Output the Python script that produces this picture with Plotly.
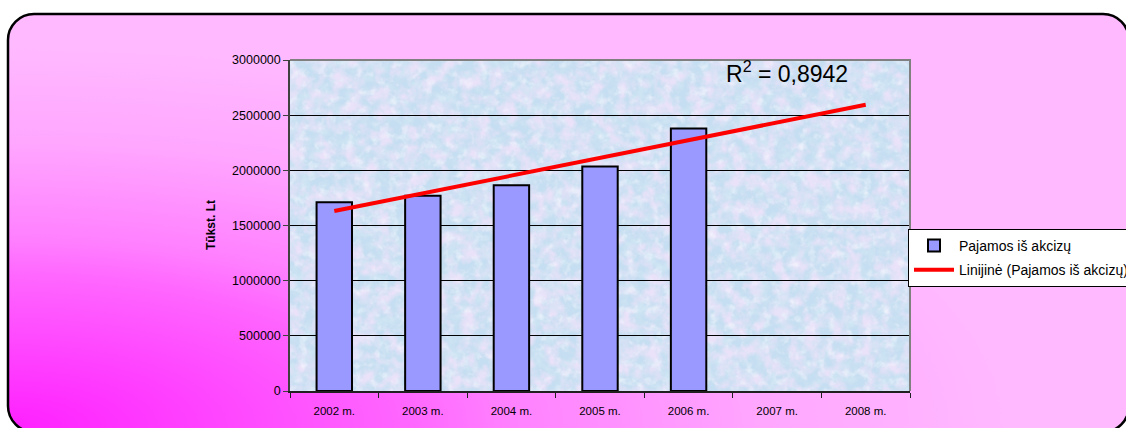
import base64
import numpy as np
import plotly.graph_objects as go

# ---- data ----
categories = ["2002 m.", "2003 m.", "2004 m.", "2005 m.", "2006 m.", "2007 m.", "2008 m."]
income_values = [1710000, 1770000, 1865000, 2035000, 2380000]
series_name = "Pajamos iš akcizų"
trend_name = "Linijinė (Pajamos iš akcizų)"
r2_label = "R<sup>2</sup> = 0,8942"
y_title = "Tūkst. Lt"
y_ticks = [0, 500000, 1000000, 1500000, 2000000, 2500000, 3000000]

# linear trend (fitted on the known years, projected over all categories)
xi = np.arange(len(income_values))
slope, intercept = np.polyfit(xi, income_values, 1)
trend_values = [intercept + slope * i for i in range(len(categories))]

W, H = 1126, 428
px0, px1, py0, py1 = 290, 910, 60, 391  # plot area in pixels

bg_svg = f"""<svg xmlns='http://www.w3.org/2000/svg' width='{W}' height='{H}' viewBox='0 0 {W} {H}' preserveAspectRatio='none'>
<defs>
<radialGradient id='g' gradientUnits='userSpaceOnUse' cx='8' cy='428' r='1000' gradientTransform='translate(8 428) scale(1 0.38) translate(-8 -428)'>
<stop offset='0' stop-color='#FF20FF'/>
<stop offset='0.4' stop-color='#FF66FF'/>
<stop offset='0.5' stop-color='#FF80FF'/>
<stop offset='0.75' stop-color='#FFA6FF'/>
<stop offset='1' stop-color='#FFB9FF'/>
</radialGradient>
</defs>
<rect x='0' y='0' width='{W}' height='{H}' fill='white'/>
<rect x='8' y='14' width='1121' height='418' rx='26' ry='26' fill='url(#g)' stroke='black' stroke-width='2.5'/>
</svg>"""

pw, ph = px1 - px0, py1 - py0
tex_svg = f"""<svg xmlns='http://www.w3.org/2000/svg' width='{pw}' height='{ph}' viewBox='0 0 {pw} {ph}' preserveAspectRatio='none'>
<defs>
<filter id='n1' x='0' y='0' width='100%' height='100%'>
<feTurbulence type='fractalNoise' baseFrequency='0.07' numOctaves='4' seed='3'/>
<feColorMatrix type='matrix' values='0 0 0 0 0.82  0 0 0 0 0.76  0 0 0 0 0.95  2.6 0 0 0 -1.0'/>
</filter>
<filter id='n2' x='0' y='0' width='100%' height='100%'>
<feTurbulence type='fractalNoise' baseFrequency='0.11' numOctaves='3' seed='11'/>
<feColorMatrix type='matrix' values='0 0 0 0 0.92  0 0 0 0 0.94  0 0 0 0 0.99  1.7 0 0 0 -0.9'/>
</filter>
<filter id='n3' x='0' y='0' width='100%' height='100%'>
<feTurbulence type='fractalNoise' baseFrequency='0.09' numOctaves='3' seed='27'/>
<feColorMatrix type='matrix' values='0 0 0 0 0.64  0 0 0 0 0.80  0 0 0 0 0.91  2.2 0 0 0 -0.95'/>
</filter>
</defs>
<rect width='{pw}' height='{ph}' fill='#C6DEF1'/>
<rect width='{pw}' height='{ph}' filter='url(#n3)'/>
<rect width='{pw}' height='{ph}' filter='url(#n1)'/>
<rect width='{pw}' height='{ph}' filter='url(#n2)'/>
</svg>"""


def uri(s):
    return "data:image/svg+xml;base64," + base64.b64encode(s.encode("utf-8")).decode("ascii")


fig = go.Figure()
fig.add_trace(go.Bar(
    x=categories[:len(income_values)], y=income_values, name=series_name,
    marker=dict(color="#9999FF", line=dict(color="black", width=2)),
    width=0.4, legendgroup="a",
))
fig.add_trace(go.Scatter(
    x=categories, y=trend_values, mode="lines", name=trend_name,
    line=dict(color="#FF0000", width=4), legendgroup="b",
))

font = "Liberation Sans, Arial, sans-serif"
fig.update_layout(
    width=W, height=H,
    margin=dict(l=px0, r=W - px1, t=py0, b=H - py1, pad=0, autoexpand=False),
    paper_bgcolor="white",
    plot_bgcolor="rgba(0,0,0,0)",
    font=dict(family=font, color="black"),
    showlegend=True,
    legend=dict(
        x=(908 - px0) / (px1 - px0), xanchor="left",
        y=(py1 - 229) / (py1 - py0), yanchor="top",
        bgcolor="white", bordercolor="black", borderwidth=1,
        font=dict(size=14, family=font, color="black"),
        tracegroupgap=3, itemwidth=40,
    ),
    xaxis=dict(
        type="category", automargin=False,
        categoryorder="array", categoryarray=categories,
        range=[-0.5, len(categories) - 0.5],
        showline=True, linecolor="#202020", linewidth=1.5,
        ticks="outside", tickson="boundaries", ticklen=5, tickcolor="#202020",
        tickfont=dict(size=11.5, family=font, color="black"),
        ticklabelstandoff=8,
        showgrid=False, zeroline=False,
    ),
    yaxis=dict(
        automargin=False,
        range=[0, 3000000], tickvals=y_ticks, tickformat="d",
        showline=True, linecolor="#404040", linewidth=1.5,
        ticks="outside", ticklen=5, tickcolor="#404040",
        tickfont=dict(size=12.5, family=font, color="black"),
        showgrid=True, gridcolor="black", gridwidth=1,
        zeroline=False,
    ),
    images=[
        dict(source=uri(bg_svg), xref="paper", yref="paper",
             x=-px0 / pw, y=(py1) / ph,
             sizex=W / pw, sizey=H / ph, sizing="stretch", layer="below",
             xanchor="left", yanchor="top"),
        dict(source=uri(tex_svg), xref="paper", yref="paper", x=0, y=1,
             sizex=1, sizey=1, sizing="stretch", layer="below",
             xanchor="left", yanchor="top"),
    ],
    shapes=[
        dict(type="path", xref="paper", yref="paper",
             path="M 0,1 L 1,1 L 1,0",
             line=dict(color="#808080", width=2)),
    ],
    annotations=[
        dict(text=r2_label, xref="paper", yref="paper",
             x=(787 - px0) / pw, y=(py1 - 72) / ph,
             showarrow=False, font=dict(size=23, family=font, color="black"),
             xanchor="center", yanchor="middle"),
        dict(text=f"<b>{y_title}</b>", xref="paper", yref="paper",
             x=(211 - px0) / pw, y=(py1 - 225) / ph,
             showarrow=False, textangle=-90, font=dict(size=12, family=font, color="black"),
             xanchor="center", yanchor="middle"),
    ],
)

fig.write_html(
    "out.html",
    config={"displayModeBar": False},
    post_script="document.body.style.margin='0';document.body.style.overflow='hidden';",
)
